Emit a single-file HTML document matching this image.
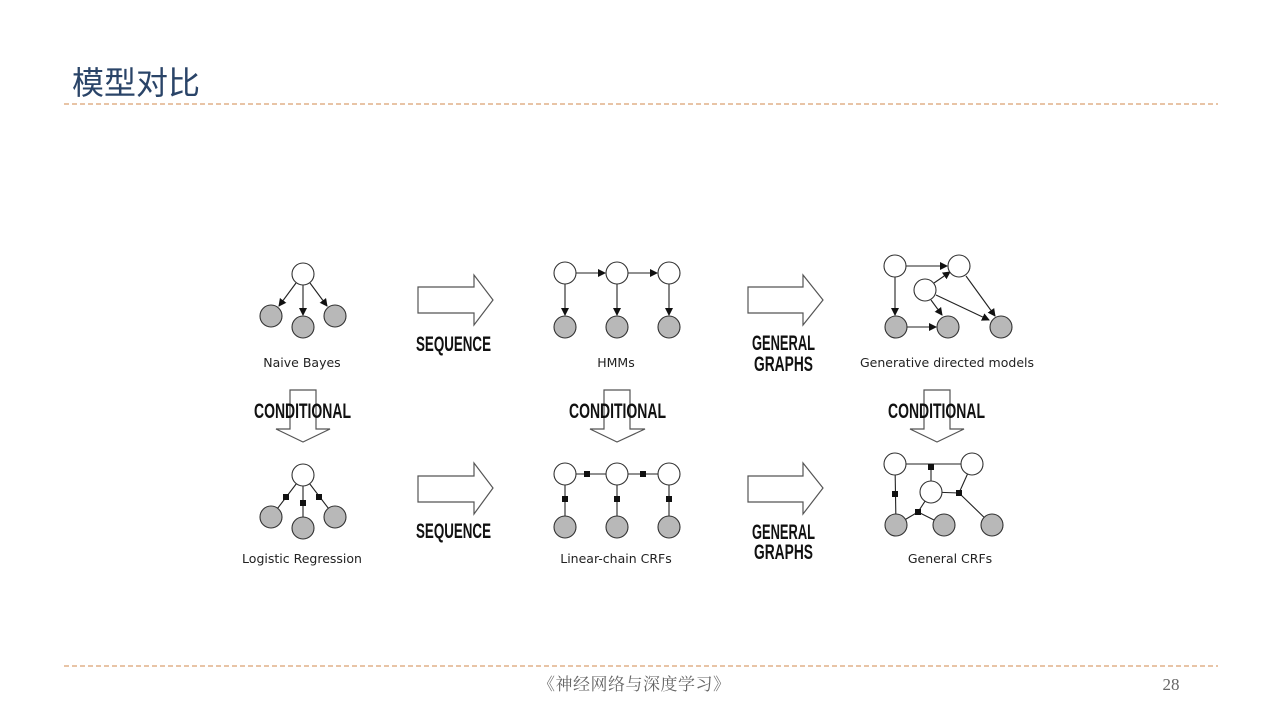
<!DOCTYPE html>
<html><head><meta charset="utf-8"><style>
body{margin:0;width:1280px;height:720px;background:#fff;overflow:hidden}
svg{display:block}
.b{font-family:"Liberation Sans Narrow","Liberation Sans",sans-serif;font-weight:bold;font-size:21px;fill:#111}
.l{font-family:"DejaVu Sans","Liberation Sans",sans-serif;font-size:12.5px;fill:#222}
</style></head><body>
<svg width="1280" height="720" viewBox="0 0 1280 720">
<defs><marker id="a" markerWidth="8" markerHeight="8" refX="7" refY="4" orient="auto" markerUnits="userSpaceOnUse"><path d="M0,0L8,4L0,8z" fill="#111"/></marker></defs>
<text x="72" y="94" style="font-family:'Noto Sans CJK SC',sans-serif;font-size:32px;fill:#2a4468">模型对比</text>
<line x1="64" y1="104" x2="1218" y2="104" stroke="#d08a4e" stroke-dasharray="5,3"/>
<line x1="64" y1="666" x2="1218" y2="666" stroke="#d08a4e" stroke-dasharray="5,3"/>
<text x="634" y="690" text-anchor="middle" textLength="192" lengthAdjust="spacing" style="font-family:'Noto Serif CJK SC',serif;font-size:17px;fill:#666">《神经网络与深度学习》</text>
<text x="1171" y="690" text-anchor="middle" style="font-family:'Liberation Serif',serif;font-size:17px;fill:#666">28</text>

<g fill="#fff" stroke="#555" stroke-width="1.2">
<path d="M418,287H474V275L493,300L474,325V313H418Z"/>
<path d="M418,476H474V463L493,488L474,514V502H418Z"/>
<path d="M748,287H803V275L823,300L803,325V313H748Z"/>
<path d="M748,476H803V463L823,488L803,514V502H748Z"/>
<path d="M290,390H316V429H330L303,442L276,429H290Z"/>
<path d="M604,390H630V429H645L617,442L590,429H604Z"/>
<path d="M924,390H950V429H964L937,442L910,429H924Z"/>
</g>
<g class="b">
<text x="416" y="351" textLength="75" lengthAdjust="spacingAndGlyphs">SEQUENCE</text>
<text x="416" y="538" textLength="75" lengthAdjust="spacingAndGlyphs">SEQUENCE</text>
<text x="752" y="350" textLength="63" lengthAdjust="spacingAndGlyphs">GENERAL</text>
<text x="754" y="371" textLength="59" lengthAdjust="spacingAndGlyphs">GRAPHS</text>
<text x="752" y="539" textLength="63" lengthAdjust="spacingAndGlyphs">GENERAL</text>
<text x="754" y="559" textLength="59" lengthAdjust="spacingAndGlyphs">GRAPHS</text>
<text x="254" y="418" textLength="97" lengthAdjust="spacingAndGlyphs">CONDITIONAL</text>
<text x="569" y="418" textLength="97" lengthAdjust="spacingAndGlyphs">CONDITIONAL</text>
<text x="888" y="418" textLength="97" lengthAdjust="spacingAndGlyphs">CONDITIONAL</text>
</g>

<g stroke="#222" stroke-width="1.1" marker-end="url(#a)">
<line x1="296" y1="283" x2="279" y2="306"/><line x1="303" y1="285" x2="303" y2="315"/><line x1="310" y1="283" x2="327" y2="306"/>
<line x1="576" y1="273" x2="605" y2="273"/><line x1="628" y1="273" x2="657" y2="273"/>
<line x1="565" y1="284" x2="565" y2="315"/><line x1="617" y1="284" x2="617" y2="315"/><line x1="669" y1="284" x2="669" y2="315"/>
<line x1="906" y1="266" x2="947" y2="266"/><line x1="895" y1="277" x2="895" y2="315"/>
<line x1="934" y1="283" x2="950" y2="272"/><line x1="931" y1="300" x2="942" y2="315"/>
<line x1="936" y1="295" x2="989" y2="320"/><line x1="966" y1="276" x2="995" y2="316"/>
<line x1="907" y1="327" x2="936" y2="327"/>
</g>
<g stroke="#222" stroke-width="1.1">
<line x1="303" y1="475" x2="271" y2="517"/><line x1="303" y1="475" x2="303" y2="528"/><line x1="303" y1="475" x2="335" y2="517"/>
<line x1="565" y1="474" x2="669" y2="474"/><line x1="565" y1="474" x2="565" y2="527"/><line x1="617" y1="474" x2="617" y2="527"/><line x1="669" y1="474" x2="669" y2="527"/>
<line x1="895" y1="464" x2="972" y2="464"/><line x1="931" y1="464" x2="931" y2="492"/><line x1="895" y1="464" x2="896" y2="525"/>
<line x1="931" y1="492" x2="959" y2="493"/><line x1="959" y1="493" x2="972" y2="464"/><line x1="959" y1="493" x2="992" y2="525"/>
<line x1="931" y1="492" x2="918" y2="512"/><line x1="918" y1="512" x2="896" y2="525"/><line x1="918" y1="512" x2="944" y2="525"/>
</g>
<g fill="#111">
<rect x="283" y="494" width="6" height="6"/><rect x="300" y="500" width="6" height="6"/><rect x="316" y="494" width="6" height="6"/>
<rect x="584" y="471" width="6" height="6"/><rect x="640" y="471" width="6" height="6"/>
<rect x="562" y="496" width="6" height="6"/><rect x="614" y="496" width="6" height="6"/><rect x="666" y="496" width="6" height="6"/>
<rect x="928" y="464" width="6" height="6"/><rect x="892" y="491" width="6" height="6"/><rect x="956" y="490" width="6" height="6"/><rect x="915" y="509" width="6" height="6"/>
</g>
<g stroke="#333" stroke-width="1.1" fill="#fff">
<circle cx="303" cy="274" r="11"/>
<circle cx="565" cy="273" r="11"/><circle cx="617" cy="273" r="11"/><circle cx="669" cy="273" r="11"/>
<circle cx="895" cy="266" r="11"/><circle cx="959" cy="266" r="11"/><circle cx="925" cy="290" r="11"/>
<circle cx="303" cy="475" r="11"/>
<circle cx="565" cy="474" r="11"/><circle cx="617" cy="474" r="11"/><circle cx="669" cy="474" r="11"/>
<circle cx="895" cy="464" r="11"/><circle cx="972" cy="464" r="11"/><circle cx="931" cy="492" r="11"/>
</g>
<g stroke="#333" stroke-width="1.1" fill="#b8b8b8">
<circle cx="271" cy="316" r="11"/><circle cx="303" cy="327" r="11"/><circle cx="335" cy="316" r="11"/>
<circle cx="565" cy="327" r="11"/><circle cx="617" cy="327" r="11"/><circle cx="669" cy="327" r="11"/>
<circle cx="896" cy="327" r="11"/><circle cx="948" cy="327" r="11"/><circle cx="1001" cy="327" r="11"/>
<circle cx="271" cy="517" r="11"/><circle cx="303" cy="528" r="11"/><circle cx="335" cy="517" r="11"/>
<circle cx="565" cy="527" r="11"/><circle cx="617" cy="527" r="11"/><circle cx="669" cy="527" r="11"/>
<circle cx="896" cy="525" r="11"/><circle cx="944" cy="525" r="11"/><circle cx="992" cy="525" r="11"/>
</g>
<g class="l" text-anchor="middle">
<text x="302" y="367">Naive Bayes</text>
<text x="616" y="367">HMMs</text>
<text x="947" y="367">Generative directed models</text>
<text x="302" y="563">Logistic Regression</text>
<text x="616" y="563">Linear-chain CRFs</text>
<text x="950" y="563">General CRFs</text>
</g>
</svg>
</body></html>
